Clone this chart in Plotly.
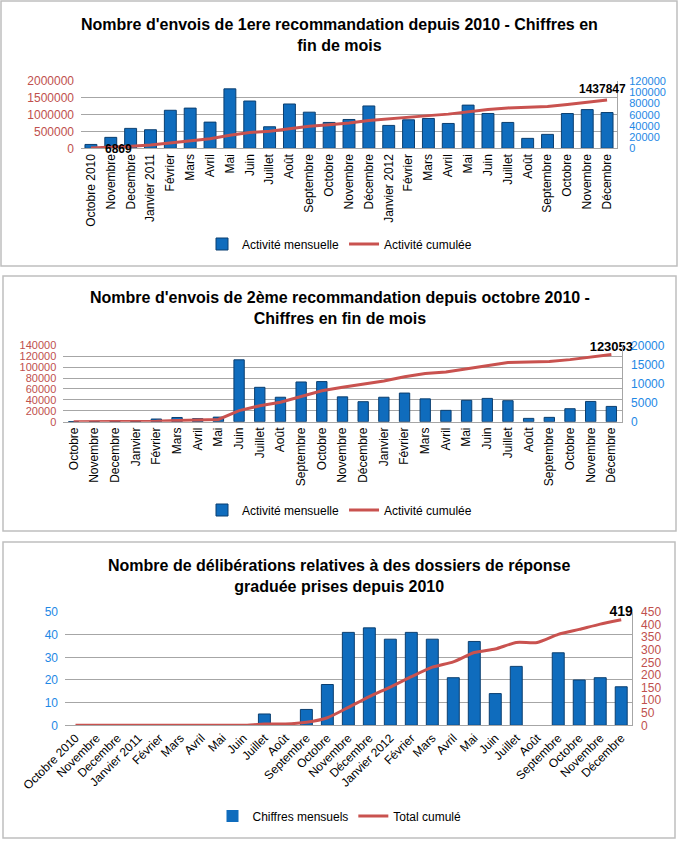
import plotly.graph_objects as go

# ---------------- data ----------------
labels1 = ["Octobre 2010", "Novembre", "Decembre", "Janvier 2011", "Février", "Mars", "Avril",
           "Mai", "Juin", "Juillet", "Août", "Septembre", "Octobre", "Novembre", "Décembre",
           "Janvier 2012", "Février", "Mars", "Avril", "Mai", "Juin", "Juillet", "Août",
           "Septembre", "Octobre", "Novembre", "Décembre"]
monthly1 = [6869, 19500, 35500, 33100, 67800, 71678, 46700, 106000, 84300, 38400, 79000, 64400,
            46100, 51400, 75500, 40800, 50800, 53200, 44300, 77000, 62100, 46100, 17700, 24800,
            62000, 69000, 63800]
cumul1 = [6869, 26369, 61869, 94969, 162769, 234447, 281147, 387147, 471447, 509847, 588847,
          653247, 699347, 750747, 826247, 867047, 917847, 971047, 1015347, 1092347, 1154447,
          1200547, 1218247, 1243047, 1305047, 1374047, 1437847]

labels2 = ["Octobre", "Novembre", "Decembre", "Janvier", "Février", "Mars", "Avril", "Mai",
           "Juin", "Juillet", "Août", "Septembre", "Octobre", "Novembre", "Décembre", "Janvier",
           "Février", "Mars", "Avril", "Mai", "Juin", "Juillet", "Août", "Septembre", "Octobre",
           "Novembre", "Décembre"]
monthly2 = [30, 50, 80, 100, 700, 1100, 800, 1200, 16200, 9000, 6400, 10400, 10500, 6500, 5240,
            6400, 7500, 5978, 2970, 5600, 6100, 5500, 870, 1135, 3400, 5300, 4000]
cumul2 = [30, 80, 160, 260, 960, 2060, 2860, 4060, 20260, 29260, 35660, 46060, 56560, 63060,
          68300, 74700, 82200, 88178, 91148, 96748, 102848, 108348, 109218, 110353, 113753,
          119053, 123053]

labels3 = labels1
monthly3 = [0, 0, 0, 0, 0, 0, 0, 0, 0, 5, 0, 7, 18, 41, 43, 38, 41, 38, 21, 37, 14, 26, 0, 32,
            20, 21, 17]
cumul3 = [0, 0, 0, 0, 0, 0, 0, 0, 0, 5, 5, 12, 30, 71, 114, 152, 193, 231, 252, 289, 303, 329,
          329, 361, 381, 402, 419]

titles = ["<b>Nombre d'envois de 1ere recommandation depuis 2010 - Chiffres en<br>fin de mois</b>",
          "<b>Nombre d'envois de 2ème recommandation depuis octobre 2010 -<br>Chiffres en fin de mois</b>",
          "<b>Nombre de délibérations relatives à des dossiers de réponse<br>graduée prises depuis 2010</b>"]

# ---------------- style ----------------
W, H = 679, 841
FONT = "Arial, Liberation Sans, sans-serif"
BAR = "#0F6CBD"
BAR_EDGE = "#0B3F70"
LINE = "#C9524F"
RED_TXT = "#C0504D"
BLUE_TXT = "#1E88E5"
GRID = "#A6A6A6"

def fx(px):
    return px / W

def fy(py):
    return 1 - py / H

idx = list(range(27))

def end_labels(vals):
    t = [""] * len(vals)
    t[-1] = str(vals[-1])
    return t

def edge_widths(vals):
    return [0 if v == 0 else 1 for v in vals]

fig = go.Figure()

# chart 1
fig.add_trace(go.Bar(x=idx, y=monthly1, xaxis="x", yaxis="y", name="Activité mensuelle",
                     marker=dict(color=BAR, line=dict(color=BAR_EDGE, width=edge_widths(monthly1))),
                     width=0.6, legend="legend"))
fig.add_trace(go.Scatter(x=idx, y=cumul1, xaxis="x", yaxis="y2", name="Activité cumulée",
                         mode="lines", line=dict(color=LINE, width=3), legend="legend",
                         cliponaxis=False))
lab_font = dict(family=FONT, size=12, color="black", weight="bold")
fig.add_annotation(x=idx[0], y=cumul1[0], xref="x", yref="y2", text=str(cumul1[0]),
                   showarrow=False, xanchor="left", yanchor="middle", xshift=12, yshift=-1,
                   font=lab_font)
fig.add_annotation(x=idx[-1], y=cumul1[-1], xref="x", yref="y2", text=str(cumul1[-1]),
                   showarrow=False, xanchor="center", yanchor="bottom", xshift=-5, yshift=2,
                   font=lab_font)

# chart 2
fig.add_trace(go.Bar(x=idx, y=monthly2, xaxis="x2", yaxis="y3", name="Activité mensuelle",
                     marker=dict(color=BAR, line=dict(color=BAR_EDGE, width=edge_widths(monthly2))),
                     width=0.5, legend="legend2"))
fig.add_trace(go.Scatter(x=idx, y=cumul2, xaxis="x2", yaxis="y4", name="Activité cumulée",
                         mode="lines+text", text=end_labels(cumul2),
                         textposition="top center",
                         textfont=dict(family=FONT, size=13, color="black", weight="bold"),
                         line=dict(color=LINE, width=3), legend="legend2", cliponaxis=False))

# chart 3
fig.add_trace(go.Bar(x=idx, y=monthly3, xaxis="x3", yaxis="y5", name="Chiffres mensuels",
                     marker=dict(color=BAR, line=dict(color=BAR_EDGE, width=edge_widths(monthly3))),
                     width=0.57, legend="legend3"))
fig.add_trace(go.Scatter(x=idx, y=cumul3, xaxis="x3", yaxis="y6", name="Total cumulé",
                         mode="lines+text", text=end_labels(cumul3),
                         textposition="top center",
                         textfont=dict(family=FONT, size=14, color="black", weight="bold"),
                         line=dict(color=LINE, width=3, shape="spline", smoothing=0.6),
                         legend="legend3", cliponaxis=False))

tickfont_x = dict(family=FONT, size=12, color="black")

def xaxis(domain, anchor, labels, angle):
    return dict(domain=domain, anchor=anchor, range=[-0.5, 26.5], tickmode="array",
                tickvals=idx, ticktext=labels, tickangle=angle, tickfont=tickfont_x,
                showgrid=False, showline=True, linecolor=GRID, linewidth=1, ticks="",
                zeroline=False, fixedrange=True, automargin=False)

def yaxis(domain, anchor, rng, dtick, side, color, grid, overlay=None, line=False, size=12,
          standoff=6):
    d = dict(domain=domain, anchor=anchor, range=rng, dtick=dtick, tick0=0, side=side,
             tickfont=dict(family=FONT, size=size, color=color), showgrid=grid,
             gridcolor=GRID, gridwidth=1, zeroline=False, showline=line, linecolor=GRID,
             linewidth=1, ticks="", ticklabelstandoff=standoff, fixedrange=True,
             automargin=False, tickformat="d")
    if overlay:
        d["overlaying"] = overlay
        d.pop("domain")
    return d

layout = dict(
    width=W, height=H, margin=dict(l=0, r=0, t=0, b=0, autoexpand=False),
    paper_bgcolor="white", plot_bgcolor="rgba(0,0,0,0)",
    font=dict(family=FONT, size=12, color="black"),
    barmode="overlay",
    xaxis=xaxis([fx(81), fx(617)], "y", labels1, -90),
    yaxis=yaxis([fy(148.3), fy(81)], "x", [0, 120000], 20000, "right", BLUE_TXT, False,
                line=True, size=11, standoff=9),
    yaxis2=yaxis(None, "x", [0, 2000000], 500000, "left", RED_TXT, True, overlay="y"),
    xaxis2=xaxis([fx(63.3), fx(621.7)], "y3", labels2, -90),
    yaxis3=yaxis([fy(421.7), fy(345.3)], "x2", [0, 20000], 5000, "right", BLUE_TXT, False, line=True),
    yaxis4=yaxis(None, "x2", [0, 140000], 20000, "left", RED_TXT, True, overlay="y3", size=11),
    xaxis3=xaxis([fx(65), fx(631.7)], "y5", labels3, -45),
    yaxis5=yaxis([fy(725.3), fy(612)], "x3", [0, 50], 10, "left", BLUE_TXT, True),
    yaxis6=yaxis(None, "x3", [0, 450], 50, "right", RED_TXT, False, overlay="y5", line=True),
    legend=dict(orientation="h", x=0.5, xanchor="center", y=fy(244), yanchor="middle",
                font=dict(family=FONT, size=12), itemwidth=30, bgcolor="rgba(0,0,0,0)"),
    legend2=dict(orientation="h", x=0.5, xanchor="center", y=fy(510), yanchor="middle",
                 font=dict(family=FONT, size=12), itemwidth=30, bgcolor="rgba(0,0,0,0)"),
    legend3=dict(orientation="h", x=0.5, xanchor="center", y=fy(816), yanchor="middle",
                 font=dict(family=FONT, size=12), itemwidth=30, bgcolor="rgba(0,0,0,0)"),
    showlegend=True,
)
fig.update_layout(**layout)

# titles
title_y = [35, 308, 576]
for t, ty in zip(titles, title_y):
    fig.add_annotation(text=t, x=0.5, y=fy(ty), xref="paper", yref="paper", showarrow=False,
                       xanchor="center", yanchor="middle", align="center",
                       font=dict(family=FONT, size=16, color="black"))

# panel frames
for (x0, y0, x1, y1) in [(1, 1, 677, 266), (3, 276, 676, 531), (3, 542, 675, 838)]:
    fig.add_shape(type="rect", xref="paper", yref="paper", x0=fx(x0), x1=fx(x1), y0=fy(y0),
                  y1=fy(y1), line=dict(color="#BFBFBF", width=1.5), fillcolor="rgba(0,0,0,0)",
                  layer="below")

fig.write_html("out.html", config={"displayModeBar": False},
               post_script="document.body.style.margin='0px';"
                           "document.body.style.overflow='hidden';")
